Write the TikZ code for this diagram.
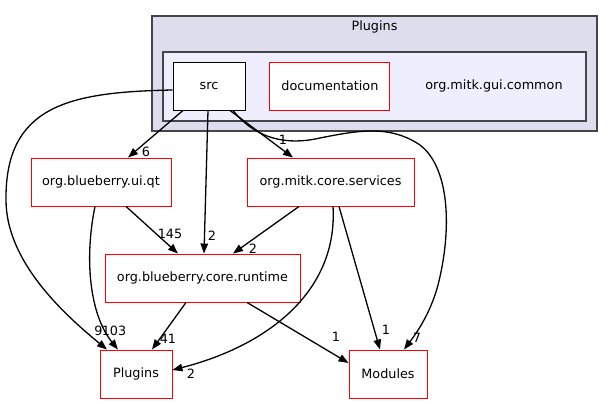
\documentclass[tikz,border=0pt]{standalone}
\usepackage{fontspec}
\setmainfont{DejaVu Sans}
\usetikzlibrary{arrows.meta}
\usetikzlibrary{positioning}

\begin{document}
\begin{tikzpicture}[x=1pt,y=-1pt,->,>={Triangle[length=10pt,width=7.5pt]},line width=1.3pt,
                    font=\fontsize{12.8}{15}\selectfont,
                    dir node/.style={rectangle,draw=red,fill=white,line width=0.9pt,minimum height=48pt,inner sep=0pt},
                    src node/.style={dir node,draw=black},
                    edge label/.style={inner sep=0pt}]

  \useasboundingbox (0,0) rectangle (613,404);

  % clusters
  \draw[-,line width=1.1pt,draw=black!73,fill={rgb,255:red,221;green,221;blue,238}] (152,16) rectangle (597,131);
  \node (plugtitle) at (374.5,27) {Plugins};
  \draw[-,line width=1.1pt,draw=black!73,fill={rgb,255:red,238;green,238;blue,255}] (163,52) rectangle (586,121);

  \node[src node,minimum width=72pt] (src) at (209,86) {src};
  \node[dir node,minimum width=120pt] (doc) [right=24pt of src] {documentation};
  \node (common) at (494,86) {org.mitk.gui.common};

  \node[dir node,minimum width=140pt] (uiqt) at (101,182) {org.blueberry.ui.qt};
  \node[dir node,minimum width=167pt] (services) at (330.5,182) {org.mitk.core.services};
  \node[dir node,minimum width=195pt] (runtime) at (202.5,278) {org.blueberry.core.runtime};
  \node[dir node,minimum width=72pt] (plugins) at (136,374) {Plugins};
  \node[dir node,minimum width=78pt] (modules) at (388,374) {Modules};

  \path
    ([xshift=-26pt]src.south) edge ([xshift=27pt]uiqt.north)
    ([xshift=-1pt]src.south) edge ([xshift=1.5pt]runtime.north)
    ([xshift=21pt]src.south) edge ([xshift=-37.5pt]services.north)
    ([xshift=25pt]uiqt.south) edge ([xshift=-24.5pt]runtime.north)
    ([xshift=-31.5pt]services.south) edge ([xshift=30.5pt]runtime.north)
    ([xshift=8.5pt]services.south) edge ([xshift=-8pt]modules.north)
    ([xshift=-16.5pt]runtime.south) edge ([xshift=16pt]plugins.north)
    ([xshift=44.5pt]runtime.south) edge ([yshift=11pt]modules.west);

  \draw ([yshift=-4pt]src.west) .. controls (70,92) and (5,105) .. (6,200)
        .. controls (6,262) and (65,315) .. ([xshift=-29pt]plugins.north);
  \draw ([xshift=-6pt]uiqt.south) .. controls (84,260) and (90,315) .. ([xshift=-18pt]plugins.north);
  \draw ([xshift=2.5pt]services.south) .. controls (338,290) and (270,345) .. ([yshift=4pt]plugins.east);
  \draw ([xshift=24pt]src.south) .. controls (255,138) and (285,146) .. (320,138)
        .. controls (360,130) and (390,125) .. (420,145)
        .. controls (450,168) and (452,230) .. (438,285)
        .. controls (430,315) and (415,335) .. ([xshift=16pt]modules.north);

  % edge labels
  \node[edge label] (n6) at (146,152) {6};
  \node[edge label] (n1a) at (283,140) {1};
  \node[edge label] (n2a) at (212,236) {2};
  \node[edge label] (n145) at (170,234) {145};
  \node[edge label] (n2b) at (253,249) {2};
  \node[edge label] (n9) at (98.5,331) {9};
  \node[edge label] (n103) at (114,331) {103};
  \node[edge label] (n41) at (168,339) {41};
  \node[edge label] (n2c) at (191,374) {2};
  \node[edge label] (n1b) at (336,337) {1};
  \node[edge label] (n1c) at (386,330) {1};
  \node[edge label] (n7) at (417,338) {7};
\end{tikzpicture}
\end{document}
